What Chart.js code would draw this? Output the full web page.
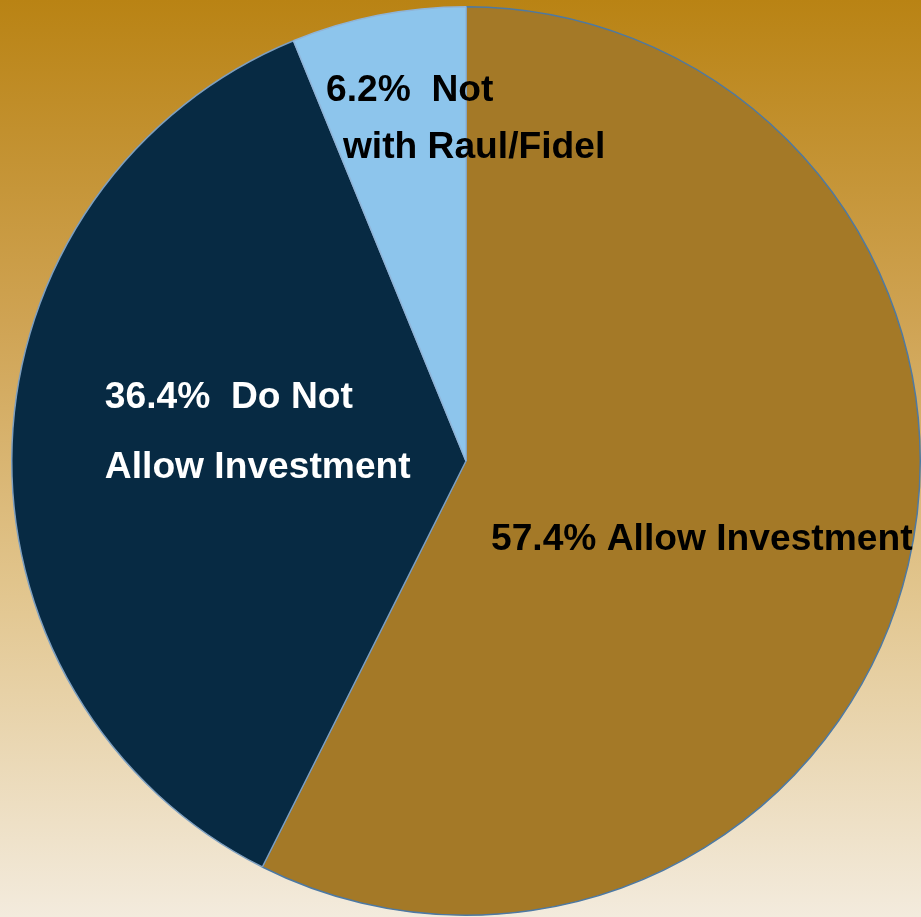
<!DOCTYPE html>
<html>
<head>
<meta charset="utf-8">
<script src="https://cdn.jsdelivr.net/npm/chart.js@4/dist/chart.umd.min.js"></script>
<style>
  html, body { margin: 0; padding: 0; }
  #wrap {
    width: 921px; height: 917px; position: relative;
    background: linear-gradient(to bottom, #B98314 0%, #CFA353 35%, #E2C68F 65%, #F3EBDD 100%);
  }
  canvas { display: block; }
</style>
</head>
<body>
<div id="wrap"><canvas id="c" width="921" height="917"></canvas></div>
<script>
const categories = ["Allow Investment", "Do Not Allow Investment", "Not with Raul/Fidel"];
const values = [57.4, 36.4, 6.2];
const labelLines = [
  ["57.4% Allow Investment"],
  ["36.4%  Do Not", "Allow Investment"],
  ["6.2%  Not", "with Raul/Fidel"]
];
const sliceColors = ["#A47927", "#072A43", "#8DC5EC"];
const borderColors = ["#4D79A3", "#7E9FBF", "#8FB4D8"];
const labelColors = ["#000000", "#FFFFFF", "#000000"];

// label anchor offsets as fractions of the radius from the pie centre (left-aligned, per line)
const labelAnchors = [
  [[0.055, 0.173]],
  [[-0.795, -0.139], [-0.795, 0.015]],
  [[-0.308, -0.814], [-0.271, -0.690]]
];

const labelPlugin = {
  id: 'sliceLabels',
  afterDatasetsDraw(chart) {
    const meta = chart.getDatasetMeta(0);
    const ctx = chart.ctx;
    ctx.save();
    ctx.font = 'bold 37.2px "Liberation Sans", Arial, sans-serif';
    ctx.textAlign = 'left';
    ctx.textBaseline = 'middle';
    meta.data.forEach((arc, i) => {
      const r = arc.outerRadius;
      ctx.fillStyle = labelColors[i];
      labelLines[i].forEach((line, j) => {
        const a = labelAnchors[i][j];
        ctx.fillText(line, arc.x + a[0] * r, arc.y + a[1] * r);
      });
    });
    ctx.restore();
  }
};

new Chart(document.getElementById('c'), {
  type: 'pie',
  data: {
    labels: categories,
    datasets: [{
      data: values,
      backgroundColor: sliceColors,
      borderColor: borderColors,
      borderWidth: 1.5
    }]
  },
  options: {
    responsive: false,
    animation: false,
    layout: { padding: { top: 5, bottom: 0, left: 11, right: 0 } },
    plugins: { legend: { display: false }, tooltip: { enabled: false } }
  },
  plugins: [labelPlugin]
});
</script>
</body>
</html>
